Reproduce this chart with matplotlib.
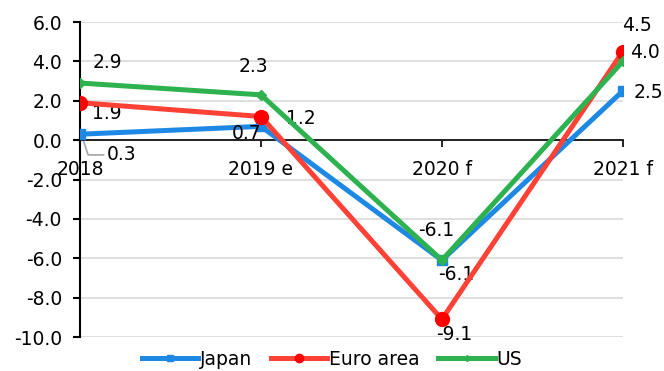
import matplotlib.pyplot as plt
import numpy as np

years = ["2018", "2019 e", "2020 f", "2021 f"]
japan = [0.3, 0.7, -6.1, 2.5]
euro = [1.9, 1.2, -9.1, 4.5]
us = [2.9, 2.3, -6.1, 4.0]

c_jp = "#1E88E5"
c_eu = "#FF4136"
c_us = "#2DB24F"

plt.rcParams['font.family'] = ['DejaVu Sans']
fig = plt.figure(figsize=(6.64, 3.71), dpi=100)
ax = fig.add_axes([0.1205, 0.0916, 0.8175, 0.8491])

x = np.arange(len(years))
ax.plot(x, japan, color=c_jp, lw=3.6, marker="s", ms=7, label="Japan", zorder=3)
ax.plot(x, euro, color=c_eu, lw=3.6, marker="o", ms=10, mfc="#FF0000", mec="#FF0000", label="Euro area", zorder=4)
ax.plot(x, us, color=c_us, lw=3.6, marker="D", ms=5, label="US", zorder=5)

fs = 13.5
ax.set_xlim(0, 3)
ax.set_ylim(-10, 6)
ax.set_yticks(np.arange(-10, 6.1, 2))
ax.set_yticklabels([f"{v:.1f}" for v in np.arange(-10, 6.1, 2)], fontsize=fs)
ax.yaxis.grid(True, color="#d9d9d9", lw=1.2)
ax.set_axisbelow(True)

for s in ["top", "right"]:
    ax.spines[s].set_visible(False)
ax.spines["left"].set_linewidth(1.5)
ax.spines["bottom"].set_position(("data", 0))
ax.spines["bottom"].set_linewidth(1.2)
ax.tick_params(axis="y", length=5, width=1.5, pad=8)
ax.tick_params(axis="x", length=5, width=1.2, direction="out", pad=9)
ax.set_xticks(x)
ax.set_xticklabels(years, fontsize=fs)

# Japan labels (0.3 has a leader line in the original)
lbl_y = japan[0] - 1.05
ax.plot([x[0] + 0.01, x[0] + 0.045, x[0] + 0.13], [japan[0] - 0.1, lbl_y, lbl_y],
        color="#a6a6a6", lw=1.2, zorder=2.5, clip_on=False)
ax.text(0.15, lbl_y, "0.3", fontsize=fs, va="center", ha="left")
ax.text(0.92, japan[1] - 0.35, "0.7", fontsize=fs, ha="center", va="center", zorder=6)
ax.text(2.08, japan[2] - 0.75, "-6.1", fontsize=fs, ha="center", va="center")
ax.text(3.06, japan[3] - 0.06, "2.5", fontsize=fs, ha="left", va="center")
# Euro labels
ax.text(0.15, euro[0] - 0.55, "1.9", fontsize=fs, ha="center", va="center")
ax.text(1.14, euro[1] - 0.08, "1.2", fontsize=fs, ha="left", va="center")
ax.text(2.07, euro[2] - 0.75, "-9.1", fontsize=fs, ha="center", va="center")
ax.text(3.08, euro[3] + 1.34, "4.5", fontsize=fs, ha="center", va="center")
# US labels
ax.text(0.15, us[0] + 1.06, "2.9", fontsize=fs, ha="center", va="center")
ax.text(0.96, us[1] + 1.46, "2.3", fontsize=fs, ha="center", va="center")
ax.text(1.97, us[2] + 1.53, "-6.1", fontsize=fs, ha="center", va="center")
ax.text(3.04, us[3] + 0.45, "4.0", fontsize=fs, ha="left", va="center")

fig.legend(loc="lower center", bbox_to_anchor=(0.5, -0.04), ncol=3, frameon=False,
           fontsize=fs, handlelength=3, columnspacing=1.0, handletextpad=0.1, markerscale=0.6)

fig.savefig("out.png", dpi=100)
